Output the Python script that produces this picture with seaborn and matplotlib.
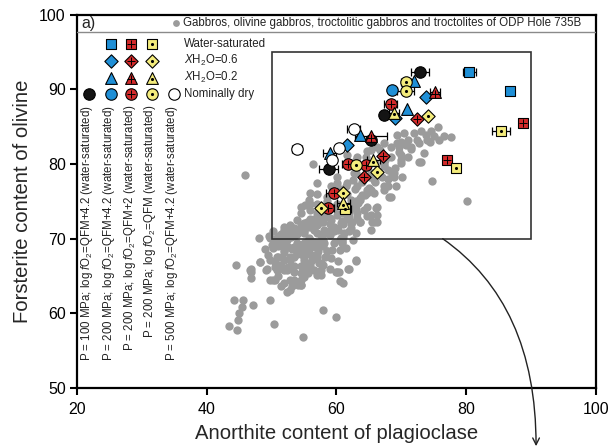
import matplotlib
matplotlib.use("Agg")
import matplotlib.pyplot as plt
import pandas as pd
import seaborn as sns
from matplotlib.patches import Rectangle

# ---------------------------------------------------------------------------
# Natural samples: gabbros, olivine gabbros, troctolitic gabbros, troctolites
# (ODP Hole 735B) - An of plagioclase vs Fo of olivine
# ---------------------------------------------------------------------------
gabbro_an = [
    54.8, 44.7, 43.4, 50.4, 44.8, 60.0, 45.0, 58.0, 45.5, 47.2,
    44.2, 45.6, 49.7, 52.4, 52.9, 51.4, 53.2, 54.1, 54.5, 61.0,
    60.6, 50.3, 49.8, 50.6, 53.4, 52.9, 54.5, 46.9, 57.0, 57.7,
    54.5, 55.6, 46.9, 60.0, 53.4, 60.1, 60.4, 46.7, 49.2, 50.9,
    51.9, 52.4, 57.6, 46.9, 49.3, 56.0, 61.8, 61.9, 53.4, 54.5,
    56.0, 55.2, 44.5, 56.0, 57.3, 48.3, 50.6, 48.2, 63.0, 49.8,
    51.9, 52.9, 55.0, 63.0, 50.9, 51.6, 52.9, 57.0, 58.2, 53.9,
    54.6, 56.0, 55.5, 58.6, 57.2, 51.9, 60.6, 59.4, 50.3, 55.5,
    53.0, 53.4, 56.8, 52.4, 52.4, 58.0, 50.9, 51.4, 54.0, 55.0,
    58.1, 59.6, 60.9, 56.5, 57.3, 52.4, 60.6, 60.8, 48.0, 49.7,
    55.8, 49.6, 53.4, 51.0, 55.0, 57.0, 58.6, 50.3, 59.6, 54.0,
    51.9, 56.5, 58.1, 60.3, 65.3, 62.2, 53.2, 51.9, 52.9, 57.0,
    60.7, 55.0, 65.8, 62.4, 57.6, 63.7, 66.2, 53.9, 59.1, 61.7,
    56.0, 58.1, 64.8, 60.1, 66.3, 65.3, 54.5, 57.0, 63.2, 56.0,
    58.6, 66.1, 54.5, 62.7, 64.8, 66.3, 55.2, 57.0, 60.1, 80.2,
    55.8, 62.2, 63.7, 63.7, 58.6, 68.1, 68.4, 56.0, 64.8, 65.8,
    64.8, 65.3, 67.3, 59.1, 63.2, 67.3, 69.2, 67.9, 57.0, 60.1,
    61.7, 74.7, 65.8, 64.2, 60.1, 68.9, 70.2, 45.9, 68.6, 62.7,
    63.0, 65.3, 66.3, 68.9, 67.9, 67.3, 56.4, 72.8, 73.0, 69.9,
    63.2, 61.7, 69.9, 64.8, 65.3, 66.8, 66.3, 68.4, 69.7, 71.5,
    67.3, 69.4, 71.0, 72.5, 74.0, 75.8, 77.7, 75.1, 76.6, 69.4,
    73.8, 70.4, 72.0, 73.0, 74.6, 75.6,
    63.7, 65.5, 63.0, 61.2, 60.9, 60.7, 59.1, 57.6, 56.0, 55.0,
    57.0, 58.6, 59.1, 57.6, 56.3, 55.2, 54.5,
    50.5, 51.5, 52.5, 53.5, 54.5, 55.5, 56.5, 57.5, 51.0, 52.0,
    53.0, 54.0, 55.0, 56.0, 57.0, 58.0, 59.0, 54.0, 55.0, 56.0,
    57.0, 58.0, 59.0, 60.0, 61.0, 62.0, 63.0, 53.5, 52.5, 51.5,
    50.5, 49.5, 49.0, 50.0, 51.2, 52.2, 53.2, 54.2, 55.4, 56.6,
    57.8, 59.0, 60.2, 61.4, 62.6, 58.4, 59.6, 60.8, 62.0, 63.4,
    64.4, 61.6, 62.8, 64.0, 65.2, 66.4, 67.4, 68.4, 69.6, 70.8,
    61.0, 62.0, 63.0, 64.0, 65.0, 66.0, 67.0, 68.0, 69.0, 70.0,
    71.0, 58.5, 59.5, 60.5, 61.5, 62.5, 57.0, 56.0, 58.0, 59.8,
    62.2, 63.2, 64.2, 61.0, 62.0, 55.5, 54.5, 53.2, 52.0, 51.0,
    58.0, 59.0, 60.2, 61.5, 62.5, 56.5, 55.0, 53.8, 52.0, 51.0,
    71.5, 70.0, 72.8, 74.5, 73.5, 67.5, 66.0, 64.5, 63.0,
]
gabbro_fo = [
    56.8, 57.8, 58.3, 58.6, 59.1, 59.5, 60.0, 60.4, 60.8, 61.1,
    61.8, 61.8, 61.8, 62.9, 63.1, 63.6, 63.6, 63.8, 63.8, 64.1,
    64.3, 64.5, 64.5, 64.5, 64.5, 64.5, 64.5, 64.7, 65.1, 65.1,
    65.4, 65.4, 65.5, 65.5, 65.6, 65.6, 65.6, 65.8, 65.8, 65.8,
    65.8, 65.8, 65.8, 66.0, 66.0, 66.0, 66.0, 66.0, 66.3, 66.3,
    66.3, 66.3, 66.5, 66.7, 66.7, 66.9, 66.9, 66.9, 67.0, 67.2,
    67.2, 67.2, 67.2, 67.2, 67.6, 67.6, 67.6, 67.6, 67.6, 68.0,
    68.0, 68.0, 68.3, 68.3, 68.3, 68.5, 68.5, 68.5, 68.7, 68.7,
    68.7, 68.9, 68.9, 68.9, 69.0, 69.0, 69.4, 69.4, 69.4, 69.4,
    69.4, 69.4, 69.4, 69.6, 69.6, 69.8, 69.8, 69.8, 70.1, 70.1,
    70.1, 70.3, 70.3, 70.3, 70.7, 70.7, 70.7, 71.0, 71.0, 71.0,
    71.2, 71.2, 71.2, 71.2, 71.2, 71.4, 71.4, 71.6, 71.9, 71.9,
    72.1, 72.1, 72.2, 72.2, 72.3, 72.3, 72.3, 72.5, 72.5, 72.7,
    72.7, 73.0, 73.0, 73.2, 73.2, 73.2, 73.4, 73.4, 73.4, 73.9,
    73.9, 74.1, 74.3, 74.3, 74.3, 74.3, 74.5, 74.7, 74.7, 75.0,
    75.2, 75.2, 75.2, 75.4, 75.6, 75.6, 75.6, 76.1, 76.1, 76.1,
    76.5, 76.5, 76.5, 77.0, 77.0, 77.0, 77.0, 77.0, 77.4, 77.4,
    77.4, 77.7, 77.9, 78.1, 78.3, 78.3, 78.3, 78.6, 78.7, 78.8,
    78.8, 78.8, 78.8, 78.8, 79.2, 79.7, 80.0, 80.3, 80.3, 80.6,
    81.0, 81.2, 81.2, 81.7, 81.9, 81.9, 82.3, 82.3, 82.3, 82.3,
    82.8, 82.8, 83.2, 83.2, 83.2, 83.2, 83.6, 83.7, 83.7, 83.9,
    83.9, 84.1, 84.2, 84.4, 84.4, 84.9,
    72.3, 72.2, 70.7, 70.7, 69.5, 70.1, 71.2, 70.5, 69.8, 68.5,
    68.0, 68.3, 67.4, 66.7, 67.2, 65.8, 63.8,
    70.0, 70.6, 71.0, 71.4, 71.8, 72.2, 72.6, 73.0, 69.0, 69.8,
    70.2, 70.6, 71.0, 71.6, 72.0, 72.3, 72.0, 68.2, 67.6, 68.8,
    69.2, 69.8, 70.5, 71.3, 72.0, 73.0, 74.0, 67.5, 66.2, 66.5,
    66.2, 67.8, 68.6, 69.2, 70.0, 70.4, 70.8, 71.2, 71.5, 71.9,
    72.4, 72.8, 73.3, 73.8, 74.6, 70.8, 71.6, 72.4, 73.6, 74.8,
    75.8, 76.0, 76.6, 77.6, 78.2, 79.0, 80.0, 81.0, 81.6, 82.6,
    73.5, 74.2, 75.0, 75.8, 76.8, 77.6, 78.2, 78.0, 79.5, 80.2,
    81.0, 75.0, 75.8, 76.6, 77.0, 77.8, 76.0, 74.6, 74.0, 74.2,
    72.0, 72.8, 73.8, 70.2, 71.0, 69.5, 69.0, 68.6, 68.2, 67.6,
    66.5, 66.0, 67.0, 68.8, 69.8, 65.8, 64.9, 64.0, 64.0, 65.0,
    82.0, 83.0, 82.8, 83.0, 81.5, 80.5, 80.2, 81.0, 80.5,
]

# ---------------------------------------------------------------------------
# Experimental products (An of plagioclase vs Fo of olivine, +/- 1 sigma on An)
# ---------------------------------------------------------------------------
series_order = ["P100_QFM+4.2", "P200_QFM+4.2", "P200_QFM+2", "P200_QFM", "P500_QFM+4.2"]
series_colors = ["#141414", "#1f8fd6", "#d32a2a", "#f4ec7c", "#ffffff"]
water_order = ["saturated", "0.6", "0.2", "dry"]

exp_series = (
    ["P100_QFM+4.2"] * 4
    + ["P200_QFM+4.2"] * 10
    + ["P200_QFM+2"] * 12
    + ["P200_QFM"] * 13
    + ["P500_QFM+4.2"] * 4
)
exp_water = (
    ["dry", "dry", "dry", "dry"]
    + ["saturated", "saturated", "0.6", "0.6", "0.6", "0.2", "0.2", "0.2", "0.2", "dry"]
    + ["dry", "dry", "dry", "dry", "dry"]
    + ["saturated", "saturated", "0.6", "0.6", "0.6", "0.2", "0.2"]
    + ["saturated", "saturated", "saturated", "0.6", "0.6", "0.6", "0.6",
       "0.2", "0.2", "0.2", "dry", "dry", "dry"]
    + ["dry", "dry", "dry", "dry"]
)
exp_an = (
    [72.9, 67.3, 65.3, 58.8]
    + [80.5, 86.8, 73.9, 69.0, 61.6, 72.0, 70.9, 63.7, 59.0, 68.6]
    + [68.4, 61.8, 64.5, 59.6, 58.7]
    + [88.8, 77.1, 72.5, 67.2, 64.3, 75.2, 65.3]
    + [85.4, 78.4, 61.4, 74.1, 66.3, 61.1, 57.6, 68.9, 65.7, 61.1, 70.7, 70.7, 63.1]
    + [62.7, 60.4, 59.3, 53.9]
)
exp_fo = (
    [92.3, 86.6, 83.2, 79.4]
    + [92.3, 89.8, 89.0, 86.2, 82.5, 91.1, 87.4, 83.9, 81.5, 89.9]
    + [88.1, 80.0, 79.9, 76.1, 74.1]
    + [85.5, 80.6, 86.1, 81.1, 78.2, 89.6, 83.8]
    + [84.4, 79.5, 74.0, 86.5, 78.9, 76.1, 74.1, 86.9, 80.5, 74.8, 91.0, 89.8, 79.9]
    + [84.7, 82.1, 80.6, 82.0]
)
exp_err = (
    [1.4, 0.0, 0.0, 1.5]
    + [1.0, 0.6, 0.0, 0.0, 0.0, 0.0, 0.0, 0.0, 1.0, 0.0]
    + [1.0, 1.0, 0.0, 1.2, 1.0]
    + [0.0, 0.0, 0.0, 0.0, 0.0, 0.8, 2.5]
    + [1.4, 0.0, 0.8, 0.0, 0.0, 0.0, 0.0, 0.8, 1.0, 1.0, 0.8, 1.3, 0.0]
    + [1.0, 0.0, 0.0, 0.8]
)

legend_col_labels = [
    r"P = 100 MPa; log $f$O$_2$=QFM+4.2 (water-saturated)",
    r"P = 200 MPa; log $f$O$_2$=QFM+4.2 (water-saturated)",
    r"P = 200 MPa; log $f$O$_2$=QFM+2 (water-saturated)",
    r"P = 200 MPa; log $f$O$_2$=QFM (water-saturated)",
    r"P = 500 MPa; log $f$O$_2$=QFM+4.2 (water-saturated)",
]
legend_row_labels = ["Water-saturated", r"$X$H$_2$O=0.6", r"$X$H$_2$O=0.2", "Nominally dry"]
gabbro_label = "Gabbros, olivine gabbros, troctolitic gabbros and troctolites of ODP Hole 735B"

# ---------------------------------------------------------------------------
sns.set_theme(style="ticks")
plt.rcParams["font.family"] = ["Liberation Sans", "DejaVu Sans"]
plt.rcParams["mathtext.fontset"] = "custom"
plt.rcParams["mathtext.rm"] = "Liberation Sans"
plt.rcParams["mathtext.it"] = "Liberation Sans:italic"
plt.rcParams["mathtext.bf"] = "Liberation Sans:bold"

GREY = "#9b9b9b"
marker_of = {"saturated": "s", "0.6": "D", "0.2": "^", "dry": "o"}
size_of = {"saturated": 48, "0.6": 46, "0.2": 72, "dry": 68}
overlay_size = {"saturated": 30, "0.6": 30, "0.2": 26, "dry": 34}
zorder_of = {"P200_QFM+4.2": 5, "P100_QFM+4.2": 6, "P200_QFM+2": 7, "P200_QFM": 8, "P500_QFM+4.2": 9}
color_of = dict(zip(series_order, series_colors))

fig = plt.figure(figsize=(6.11, 4.48), dpi=100)
ax = fig.add_axes([0.126, 0.134, 0.849, 0.833])

# natural samples
gab = pd.DataFrame({"an": gabbro_an, "fo": gabbro_fo})
sns.scatterplot(data=gab, x="an", y="fo", color=GREY, s=36, linewidth=0,
                ax=ax, legend=False, zorder=2)

# enlarged-area frame
ax.add_patch(Rectangle((50, 70), 40, 25, fill=False, edgecolor="#333333",
                       linewidth=1.2, zorder=3))

# experiments
exp = pd.DataFrame({"series": exp_series, "water": exp_water, "an": exp_an,
                    "fo": exp_fo, "err": exp_err})

bars = exp[exp["err"] > 0]
ax.errorbar(bars["an"], bars["fo"], xerr=bars["err"], fmt="none", ecolor="black",
            elinewidth=0.9, capsize=3.2, capthick=0.9, zorder=4)

for (ser, wat), grp in exp.groupby(["series", "water"], sort=False):
    z = zorder_of[ser]
    sns.scatterplot(data=grp, x="an", y="fo", color=color_of[ser],
                    marker=marker_of[wat], s=size_of[wat], edgecolor="black",
                    linewidth=0.8, ax=ax, legend=False, zorder=z)
    if ser == "P200_QFM+2":
        ax.scatter(grp["an"], grp["fo"] - (0.25 if wat == "0.2" else 0), marker="+",
                   s=overlay_size[wat], color="black", linewidths=0.7, zorder=z + 0.5)
    elif ser == "P200_QFM":
        ax.scatter(grp["an"], grp["fo"] - (0.25 if wat == "0.2" else 0), marker="o",
                   s=5, color="black", linewidths=0, zorder=z + 0.5)

# curved pointer leaving the frame
ax.annotate("", xy=(90.8, 42.2), xytext=(76.4, 70.0),
            arrowprops=dict(arrowstyle="->", color="#222222", lw=1.0,
                            shrinkA=0, shrinkB=0,
                            connectionstyle="angle3,angleA=-35,angleB=90"),
            annotation_clip=False, zorder=3)

# axes styling
ax.set_xlim(20, 100)
ax.set_ylim(50, 100)
ax.set_xticks([20, 40, 60, 80, 100])
ax.set_yticks([50, 60, 70, 80, 90, 100])
ax.tick_params(direction="out", length=5, width=1.5, labelsize=11.5, colors="black")
ax.tick_params(axis="x", pad=5)
ax.tick_params(axis="y", pad=3)
for sp in ax.spines.values():
    sp.set_linewidth(1.6)
    sp.set_color("black")
ax.set_xlabel("Anorthite content of plagioclase", fontsize=14.6, labelpad=5)
ax.set_ylabel("Forsterite content of olivine", fontsize=14.6, labelpad=5)

# header line of the key
ax.text(0.008, 0.977, "a)", transform=ax.transAxes, fontsize=11.5, va="center", ha="left")
ax.scatter([0.191], [0.977], transform=ax.transAxes, s=24, color=GREY, linewidths=0,
           clip_on=False, zorder=10)
ax.text(0.205, 0.977, gabbro_label, transform=ax.transAxes, fontsize=8.3,
        va="center", ha="left", color="#222222")
ax.plot([0.0, 1.0], [0.953, 0.953], transform=ax.transAxes, color="#8a8a8a",
        lw=1.0, zorder=10)

# symbol key
col_x = [0.023, 0.0655, 0.1045, 0.1445, 0.1865]
row_y = [0.922, 0.877, 0.831, 0.788]
for ci, ser in enumerate(series_order):
    rows = [3] if ci in (0, 4) else [0, 1, 2, 3]
    for ri in rows:
        wat = water_order[ri]
        ax.scatter([col_x[ci]], [row_y[ri]], transform=ax.transAxes,
                   marker=marker_of[wat], s=size_of[wat], color=color_of[ser],
                   edgecolors="black", linewidths=0.8, clip_on=False, zorder=10)
        yo = row_y[ri] - (0.004 if wat == "0.2" else 0)
        if ser == "P200_QFM+2":
            ax.scatter([col_x[ci]], [yo], transform=ax.transAxes, marker="+",
                       s=overlay_size[wat], color="black", linewidths=0.7,
                       clip_on=False, zorder=11)
        elif ser == "P200_QFM":
            ax.scatter([col_x[ci]], [yo], transform=ax.transAxes, marker="o", s=5,
                       color="black", linewidths=0, clip_on=False, zorder=11)
    ax.text(col_x[ci] - 0.003, 0.758, legend_col_labels[ci], transform=ax.transAxes,
            rotation=90, fontsize=8.3, ha="center", va="top", color="#222222")

for ri, lab in enumerate(legend_row_labels):
    ax.text(0.207, row_y[ri], lab, transform=ax.transAxes, fontsize=8.3,
            va="center", ha="left", color="#222222")

fig.savefig("out.png", dpi=100)
